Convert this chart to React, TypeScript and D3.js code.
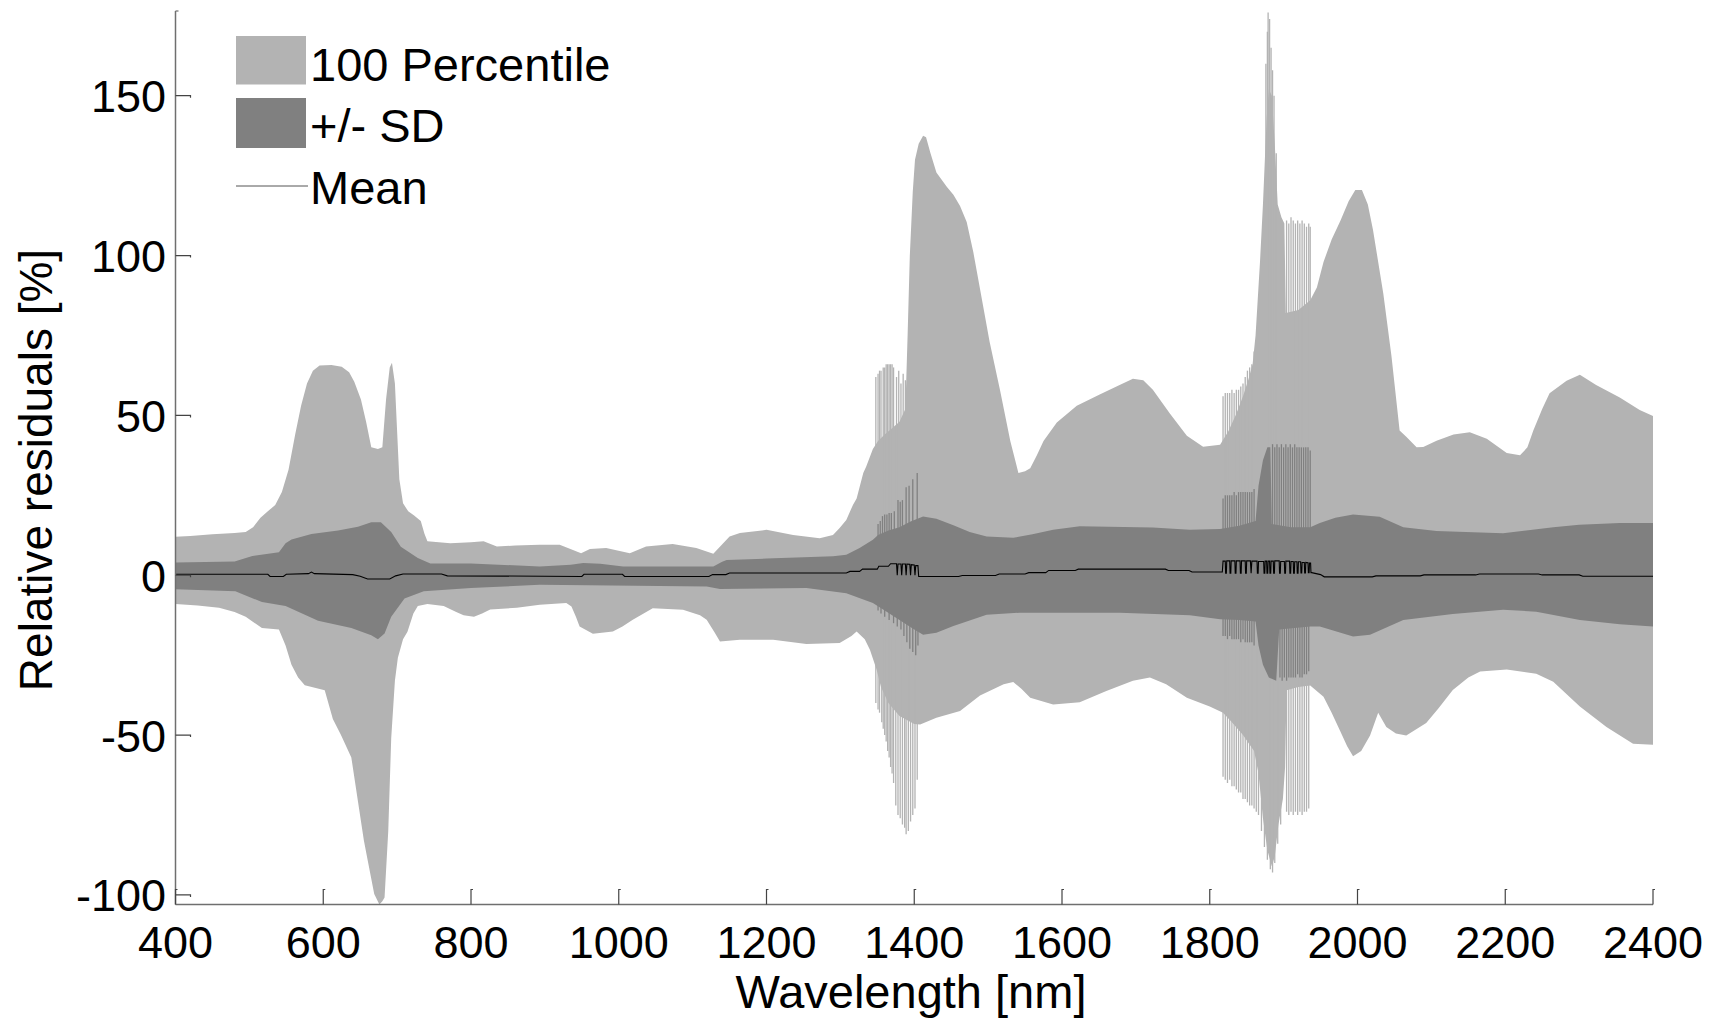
import React from 'react';
import * as d3 from 'd3';

type Pt = [number, number];

// Axis ticks
const xTicks: number[] = [400, 600, 800, 1000, 1200, 1400, 1600, 1800, 2000, 2200, 2400];
const yTicks: number[] = [-100, -50, 0, 50, 100, 150];

// 100 percentile band: upper (maximum) envelope [wavelength nm, residual %]
const maxEnvelope: Pt[] = [
  [400, 12], [420, 12.3], [450, 12.8], [480, 13.2], [495, 13.5], [505, 15], [515, 18], [525, 20],
  [535, 22], [544, 26], [553, 33], [562, 44], [570, 53], [578, 60], [586, 64], [595, 65.6],
  [611, 65.8], [625, 65.2], [635, 63.5], [642, 60.5], [651, 55], [658, 48], [665, 40], [674, 39.5],
  [680, 40], [685, 55], [690, 65], [693, 66.5], [697, 60], [700, 45], [703, 30], [708, 22.5],
  [715, 20], [723, 18.7], [732, 17], [737, 13], [741, 10.6], [772, 10], [800, 10.3], [817, 10.6],
  [835, 9], [860, 9.3], [893, 9.5], [920, 9.5], [938, 7.9], [949, 6.9], [961, 8.2], [983, 8.5],
  [1015, 6.9], [1037, 9], [1073, 9.8], [1105, 8.5], [1128, 6.7], [1150, 12.1], [1164, 13.2],
  [1200, 14.2], [1236, 12.6], [1272, 11.6], [1290, 12.6], [1299, 14.8], [1308, 17.3], [1317, 22],
  [1322, 24], [1331, 32], [1335, 34], [1344, 39.5], [1351, 42], [1360, 44], [1370, 46], [1380, 48],
  [1388, 52], [1391, 75], [1394, 100], [1398, 120], [1401, 130], [1406, 135], [1412, 137.5],
  [1416, 137], [1422, 132], [1430, 126], [1444, 121.5], [1453, 119], [1462, 115.5], [1471, 110.5],
  [1480, 101], [1491, 87], [1502, 73], [1516, 58], [1530, 42], [1541, 32], [1550, 32.5],
  [1557, 33.5], [1566, 37.5], [1575, 42], [1593, 47.8], [1620, 53], [1651, 56.5], [1678, 59.5],
  [1696, 61.5], [1710, 61], [1723, 58], [1746, 50.6], [1769, 43.6], [1791, 40.2], [1814, 40.8],
  [1825, 45], [1835, 50], [1845, 56], [1852, 61], [1858, 66], [1862, 75], [1868, 98], [1872, 116],
  [1877, 143], [1880, 152], [1884, 150], [1888, 135], [1892, 116], [1897, 112], [1901, 110],
  [1903, 82], [1920, 83], [1936, 86], [1945, 90], [1954, 98], [1965, 105], [1977, 111], [1988, 117],
  [1997, 120.5], [2006, 120.5], [2014, 116], [2021, 108], [2028, 98], [2035, 88], [2046, 68.5],
  [2057, 45.3], [2066, 43.3], [2080, 40], [2089, 40.1], [2107, 42.1], [2130, 44], [2152, 44.7],
  [2175, 42.7], [2202, 38.2], [2220, 37.5], [2230, 40], [2238, 45.3], [2250, 52], [2260, 56.9],
  [2283, 60.8], [2301, 62.7], [2323, 59.5], [2355, 55.6], [2382, 51.7], [2400, 49.8],
];

// 100 percentile band: lower (minimum) envelope
const minEnvelope: Pt[] = [
  [400, -9], [430, -9.5], [459, -10.2], [480, -11.5], [495, -13], [517, -16.5], [540, -17], [549, -22],
  [557, -28], [566, -32], [575, -34.4], [602, -36], [613, -45], [624, -50], [638, -57], [647, -70.8],
  [655, -83], [660, -89], [669, -99.7], [676, -103], [680, -102], [683, -100.8], [688, -80], [692, -51],
  [697, -33], [701, -25.8], [708, -20], [714, -17.7], [722, -12], [728, -9.6], [741, -9], [763, -9.6],
  [780, -11.5], [790, -12.5], [804, -13], [815, -12], [826, -10.7], [862, -10.2], [893, -9.2],
  [929, -8.7], [936, -9.8], [942, -13], [947, -16], [965, -18.3], [992, -17.6], [1005, -16],
  [1019, -13.9], [1046, -10.3], [1087, -10.8], [1110, -12.5], [1119, -13.9], [1130, -18],
  [1137, -20.7], [1164, -20.2], [1209, -20.2], [1254, -21.5], [1299, -21.2], [1315, -19],
  [1322, -17.6], [1333, -20], [1340, -23.3], [1349, -29.5], [1355, -35], [1365, -40], [1380, -44],
  [1400, -46.5], [1408, -46.7], [1430, -44.6], [1462, -42.5], [1489, -37.6], [1521, -34.1],
  [1534, -33.4], [1545, -35.5], [1557, -38.3], [1588, -40.4], [1624, -39.7], [1660, -36.2],
  [1696, -33], [1719, -32], [1741, -34.1], [1769, -38.3], [1800, -41.1], [1818, -43], [1830, -46],
  [1845, -50], [1860, -55], [1866, -62], [1872, -76], [1878, -86], [1884, -91], [1888, -88],
  [1893, -78], [1899, -70], [1902, -60], [1904, -36], [1920, -35], [1936, -34.5], [1954, -38],
  [1965, -43], [1977, -49], [1986, -53.5], [1994, -56.6], [2005, -55], [2017, -50.1], [2028, -43],
  [2039, -47.5], [2052, -49.5], [2066, -50.1], [2093, -46.2], [2110, -41.5], [2129, -35.9],
  [2150, -32], [2166, -30.1], [2202, -29.5], [2242, -30.8], [2265, -33.3], [2301, -41.1],
  [2337, -47.5], [2373, -52.7], [2400, -53],
];

// Mean + SD
const sdUpper: Pt[] = [
  [400, 4], [480, 4.3], [504, 6], [540, 7.2], [549, 10], [557, 11.2], [584, 12.9], [620, 14],
  [647, 15.2], [665, 16.6], [678, 16.6], [692, 13.5], [705, 8.9], [728, 5.4], [745, 3.7], [800, 3.7],
  [893, 2.75], [935, 3.3], [952, 3.8], [975, 3.6], [1006, 2.75], [1128, 2.75], [1140, 4.2],
  [1146, 4.8], [1200, 5.2], [1290, 5.9], [1308, 6.4], [1326, 8.5], [1344, 11.1], [1351, 12.6],
  [1365, 14], [1380, 15], [1395, 16.8], [1412, 18.4], [1430, 17.7], [1453, 15.6], [1475, 13.5],
  [1498, 12.1], [1534, 11.7], [1560, 12.8], [1588, 14.2], [1624, 15.3], [1723, 14.9], [1773, 14.2],
  [1814, 14.5], [1840, 15.5], [1862, 17], [1866, 28], [1872, 36], [1878, 40], [1882, 40], [1884, 16],
  [1910, 15], [1936, 15], [1949, 16.3], [1970, 18], [1994, 19], [2030, 18.3], [2062, 15],
  [2107, 13.8], [2197, 13.1], [2265, 15], [2300, 15.8], [2355, 16.3], [2400, 16.3],
];

// Mean - SD
const sdLower: Pt[] = [
  [400, -4.4], [481, -5], [517, -8.4], [549, -9.6], [593, -14.2], [638, -16.5], [665, -18.8],
  [674, -20], [683, -18.2], [692, -13], [710, -7.3], [736, -5], [800, -4], [893, -3], [1119, -3.5],
  [1137, -4.3], [1254, -4], [1308, -5.6], [1344, -8.7], [1360, -11], [1380, -14], [1400, -17],
  [1412, -18.6], [1430, -18], [1453, -15.9], [1498, -12.4], [1543, -11.7], [1678, -11.7],
  [1773, -12.5], [1814, -13.8], [1840, -14], [1862, -14.5], [1866, -22], [1872, -28], [1880, -32],
  [1890, -33], [1894, -17], [1936, -16], [1949, -16], [1994, -19.2], [2017, -18.6], [2062, -14],
  [2129, -12.1], [2197, -10.8], [2242, -11.4], [2301, -14], [2355, -15.3], [2400, -16],
];

// Narrow single-band excursions inside the water absorption regions
const maxSpikes: Pt[] = [
  [1348, 62], [1351, 63], [1353, 64], [1355, 64], [1358, 65], [1360, 65], [1362, 66], [1364, 66],
  [1366, 66], [1368, 66], [1370, 66], [1372, 65], [1376, 62], [1379, 64], [1382, 60], [1385, 63],
  [1388, 61],
  [1818, 56], [1821, 57], [1824, 57], [1827, 57], [1830, 58], [1833, 57], [1836, 58], [1839, 58],
  [1842, 59], [1845, 60], [1848, 62], [1851, 64], [1854, 65], [1857, 66], [1860, 70],
  [1876, 160], [1878, 170], [1879, 176], [1881, 174], [1883, 165], [1885, 158], [1887, 150],
  [1890, 132], [1904, 111], [1907, 110], [1910, 112], [1913, 111], [1916, 110], [1919, 111],
  [1922, 110], [1925, 111], [1928, 110], [1931, 109], [1934, 110], [1936, 109],
];

const minSpikes: Pt[] = [
  [1348, -40], [1351, -42], [1353, -43], [1356, -46], [1358, -48], [1360, -50], [1362, -52],
  [1364, -55], [1366, -57], [1368, -60], [1370, -62], [1372, -65], [1375, -72], [1378, -75],
  [1381, -76], [1384, -78], [1387, -79], [1389, -81], [1392, -80], [1395, -77], [1398, -75],
  [1401, -73], [1404, -64],
  [1818, -63], [1821, -64], [1824, -65], [1827, -64], [1830, -66], [1833, -66], [1836, -67],
  [1839, -68], [1842, -68], [1845, -70], [1848, -70], [1851, -71], [1854, -72], [1857, -72],
  [1860, -73], [1863, -74], [1866, -75], [1870, -80], [1874, -85], [1878, -89], [1882, -92],
  [1885, -93], [1888, -90], [1892, -84], [1896, -78], [1904, -74], [1907, -75], [1910, -74],
  [1913, -75], [1916, -74], [1919, -75], [1922, -74], [1925, -75], [1928, -74], [1931, -74],
  [1934, -73],
];

const sdUpperSpikes: Pt[] = [
  [1351, 16], [1354, 17], [1357, 18.5], [1360, 19], [1363, 19], [1366, 19.5], [1369, 19.5],
  [1373, 20], [1378, 23.5], [1381, 23], [1384, 23.5], [1389, 27.5], [1393, 28], [1398, 30],
  [1404, 32],
  [1818, 24], [1821, 25], [1824, 25], [1827, 25], [1830, 25], [1833, 26], [1836, 25], [1839, 26],
  [1842, 26], [1845, 26], [1848, 26], [1851, 26], [1854, 26], [1857, 26], [1860, 27],
  [1885, 41], [1888, 40], [1891, 41], [1894, 40], [1897, 41], [1900, 40], [1903, 41], [1906, 40],
  [1909, 41], [1912, 40], [1915, 41], [1918, 40], [1921, 40], [1924, 40], [1927, 40], [1930, 40],
  [1933, 40], [1936, 39],
];

const sdLowerSpikes: Pt[] = [
  [1351, -11], [1355, -12], [1360, -13], [1366, -14], [1372, -15], [1377, -16], [1382, -17],
  [1386, -19], [1390, -21], [1394, -23], [1398, -24], [1402, -25], [1405, -22],
  [1818, -19], [1821, -19], [1824, -20], [1827, -19], [1830, -20], [1833, -20], [1836, -20],
  [1839, -20], [1842, -21], [1845, -20], [1848, -21], [1851, -21], [1854, -21], [1857, -21],
  [1860, -22], [1895, -32], [1898, -33], [1901, -32], [1904, -33], [1907, -32], [1910, -32],
  [1913, -32], [1916, -32], [1919, -31], [1922, -32], [1925, -32], [1928, -31], [1931, -31],
  [1934, -30],
];

// Mean relative residual
const meanLine: Pt[] = [
  [400, 0.3], [525, 0.3], [528, -0.4], [546, -0.4], [550, 0.3], [580, 0.5], [584, 1.0], [588, 0.5],
  [640, 0.2], [650, -0.3], [660, -1.2], [690, -1.2], [698, -0.2], [708, 0.4], [760, 0.4],
  [768, -0.2], [900, -0.3], [950, -0.4], [953, 0.3], [1005, 0.3], [1008, -0.4], [1122, -0.4],
  [1127, 0.2], [1145, 0.2], [1150, 0.7], [1308, 0.7], [1313, 1.2], [1326, 1.2], [1330, 1.9],
  [1350, 1.9], [1352, 2.8], [1365, 2.8], [1368, 3.6], [1376, 3.6], [1377, 0], [1378, 3.5],
  [1382, 3.5], [1383, 0], [1384, 3.5], [1388, 3.5], [1389, 0], [1390, 3.5], [1394, 3.4],
  [1395, 0], [1396, 3.3], [1400, 3.2], [1401, 0], [1402, 3], [1405, 3], [1406, -0.4],
  [1460, -0.4], [1465, -0.1], [1510, -0.1], [1515, 0.4], [1550, 0.4], [1555, 0.8], [1578, 0.8],
  [1582, 1.5], [1618, 1.5], [1622, 1.9], [1740, 1.9], [1744, 1.5], [1772, 1.5], [1776, 1.0],
  [1817, 1.0], [1818, 4.4], [1821, 4.4], [1821.5, 0.6], [1822.5, 0.6], [1823, 4.5], [1827, 4.5],
  [1827.5, 0.6], [1828.5, 0.6], [1829, 4.5], [1834, 4.5], [1834.5, 0.6], [1835.5, 0.6], [1836, 4.5],
  [1841, 4.5], [1841.5, 0.6], [1842.5, 0.6], [1843, 4.5], [1848, 4.5], [1848.5, 0.6], [1849.5, 0.6],
  [1850, 4.5], [1855, 4.5], [1856, 0.6], [1857, 4.4], [1864, 4.4], [1864.5, 0.6], [1865.5, 0.6],
  [1866, 4.3], [1873, 4.3], [1873.5, 0.6], [1874.5, 0.6], [1875, 4.4], [1877, 4.4], [1877.5, 0.6],
  [1878.5, 0.6], [1879, 4.4], [1881, 4.4], [1881.5, 0.6], [1882.5, 0.6], [1883, 4.4], [1886, 4.4],
  [1886.5, 0.6], [1887.5, 0.6], [1888, 4.5], [1894, 4.5], [1894.5, 0.6], [1895.5, 0.6], [1896, 4.3],
  [1901, 4.3], [1901.5, 0.6], [1902.5, 0.6], [1903, 4.4], [1908, 4.4], [1908.5, 0.6], [1909.5, 0.6],
  [1910, 4.3], [1913, 4.3], [1913.5, 0.6], [1914.5, 0.6], [1915, 4.2], [1918, 4.2], [1918.5, 0.6],
  [1919.5, 0.6], [1920, 4.2], [1923, 4.2], [1923.5, 0.7], [1924.5, 0.7], [1925, 4.0], [1928, 4.0],
  [1928.5, 0.7], [1929.5, 0.7], [1930, 4.0], [1933, 3.9], [1933.5, 0.8], [1934.5, 0.8], [1935, 3.8],
  [1936.5, 3.8], [1937, 0.8], [1938, 0.8], [1950, 0.2], [1955, -0.5], [2020, -0.5], [2025, -0.2],
  [2085, -0.2], [2090, 0.1], [2160, 0.1], [2165, 0.4], [2245, 0.4], [2250, 0.1], [2300, 0.1],
  [2305, -0.3], [2400, -0.3],
];

const legendLabels: string[] = ['100 Percentile', '+/- SD', 'Mean'];
const xTitle = 'Wavelength [nm]';
const yTitle = 'Relative residuals [%]';

const LIGHT = '#b3b3b3';
const DARK = '#808080';
const AXIS = '#6f6f6f';
const FONT = '"Liberation Sans", Arial, Helvetica, sans-serif';

export default function App() {
  const W = 1721;
  const H = 1021;
  const left = 175.5;
  const right = 1653;
  const top = 11;
  const bottom = 904.5;

  const x = d3.scaleLinear().domain([400, 2400]).range([left, right]);
  const y = d3.scaleLinear().domain([-103, 176.5]).range([bottom, top]);

  const line = d3.line<Pt>().x((d) => x(d[0])).y((d) => y(d[1]));
  const band = (upper: Pt[], lower: Pt[]) =>
    (line([...upper, ...lower.slice().reverse()]) || '') + 'Z';

  const spikes = (pts: Pt[], color: string, key: string) =>
    pts.map((d, i) => (
      <line
        key={`${key}-${i}`}
        x1={x(d[0])}
        x2={x(d[0])}
        y1={y(0)}
        y2={y(d[1])}
        stroke={color}
        strokeWidth={1.3}
      />
    ));

  return (
    <svg
      width={W}
      height={H}
      viewBox={`0 0 ${W} ${H}`}
      style={{ position: 'absolute', left: 0, top: 0, background: '#fff' }}
      fontFamily={FONT}
    >
      <rect x={0} y={0} width={W} height={H} fill="#fff" />
      <defs>
        <clipPath id="plot-area">
          <rect x={left} y={top} width={right - left} height={bottom - top} />
        </clipPath>
      </defs>

      <g clipPath="url(#plot-area)">
        <path d={band(maxEnvelope, minEnvelope)} fill={LIGHT} />
        {spikes(maxSpikes, LIGHT, 'max')}
        {spikes(minSpikes, LIGHT, 'min')}
        <path d={band(sdUpper, sdLower)} fill={DARK} />
        {spikes(sdUpperSpikes, DARK, 'sdu')}
        {spikes(sdLowerSpikes, DARK, 'sdl')}
        <path d={line(meanLine) || ''} fill="none" stroke="#000" strokeWidth={1.1} />
      </g>

      {/* axes */}
      <line x1={left} x2={left} y1={top} y2={bottom} stroke={AXIS} strokeWidth={1.5} />
      <line x1={left} x2={left + 3} y1={top} y2={top} stroke={AXIS} strokeWidth={1.2} />
      <line x1={left} x2={right} y1={bottom} y2={bottom} stroke={AXIS} strokeWidth={1.5} />

      {xTicks.map((t) => (
        <g key={`xt-${t}`}>
          <path
            d={`M${x(t)},${bottom} V${bottom - 15} h2`}
            fill="none"
            stroke="#444"
            strokeWidth={1.2}
          />
          <text x={x(t)} y={958} textAnchor="middle" fontSize={45} fill="#000">
            {t}
          </text>
        </g>
      ))}

      {yTicks.map((t) => (
        <g key={`yt-${t}`}>
          <path
            d={`M${left},${y(t)} H${left + 15} v2`}
            fill="none"
            stroke="#444"
            strokeWidth={1.2}
          />
          <text x={166} y={y(t) + 16.5} textAnchor="end" fontSize={45} fill="#000">
            {t}
          </text>
        </g>
      ))}

      <text x={911} y={1008} textAnchor="middle" fontSize={47} fill="#000">
        {xTitle}
      </text>
      <text
        transform="translate(52,470) rotate(-90)"
        textAnchor="middle"
        fontSize={46}
        fill="#000"
      >
        {yTitle}
      </text>

      {/* legend */}
      <rect x={236} y={36} width={70} height={48.5} fill={LIGHT} />
      <rect x={236} y={98} width={70} height={50} fill={DARK} />
      <line x1={236} x2={308} y1={186} y2={186} stroke="#555" strokeWidth={1} />
      <text x={310} y={81} fontSize={47} fill="#000">{legendLabels[0]}</text>
      <text x={310} y={142} fontSize={47} fill="#000">{legendLabels[1]}</text>
      <text x={310} y={204} fontSize={47} fill="#000">{legendLabels[2]}</text>
    </svg>
  );
}
